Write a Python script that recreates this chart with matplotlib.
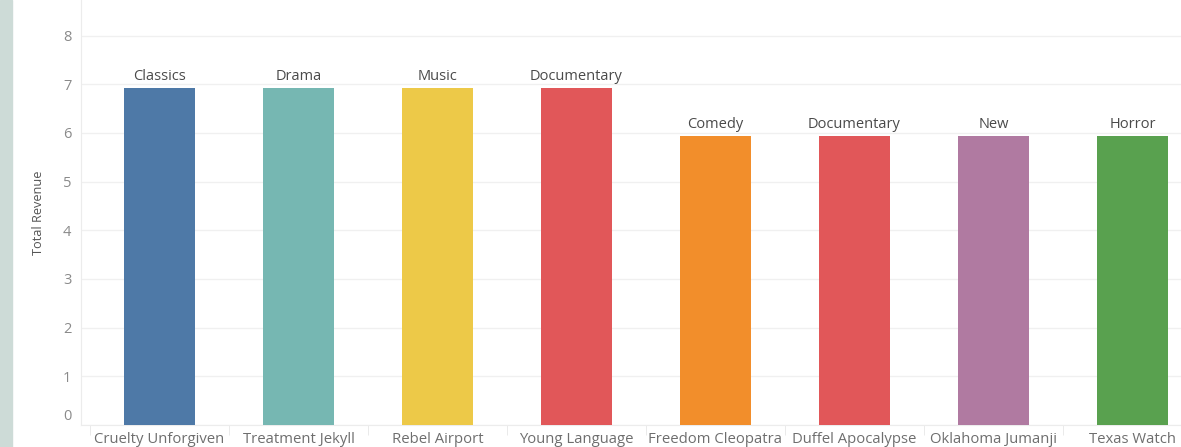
import matplotlib
matplotlib.use("Agg")
import matplotlib.pyplot as plt
from matplotlib.patches import Rectangle
from matplotlib.transforms import ScaledTranslation
import numpy as np

films = ["Cruelty Unforgiven", "Treatment Jekyll", "Rebel Airport", "Young Language",
         "Freedom Cleopatra", "Duffel Apocalypse", "Oklahoma Jumanji", "Texas Watch"]
categories = ["Classics", "Drama", "Music", "Documentary",
              "Comedy", "Documentary", "New", "Horror"]
revenue = [6.93, 6.93, 6.93, 6.93, 5.94, 5.94, 5.94, 5.94]

cat_colors = {
    "Classics": "#4e79a7",
    "Drama": "#76b7b2",
    "Music": "#edc948",
    "Documentary": "#e15759",
    "Comedy": "#f28e2b",
    "New": "#b07aa1",
    "Horror": "#59a14f",
}

plt.rcParams["font.family"] = ["Open Sans", "DejaVu Sans"]

W, H = 1181, 447
fig = plt.figure(figsize=(W / 100, H / 100), dpi=100)
fig.patches.append(Rectangle((0, 0), 12 / W, 1, transform=fig.transFigure,
                             color="#cddbd7", zorder=0))

left, right, bottom, top = 81, 1181, 425, 0
ax = fig.add_axes([left / W, (H - bottom) / H, (right - left) / W, (bottom - top) / H])

x = np.arange(len(films))
colors = [cat_colors[c] for c in categories]
ax.bar(x, revenue, width=0.51, color=colors, zorder=3)
for xi, v, c in zip(x, revenue, categories):
    ax.text(xi, v + 0.07, c, ha="center", va="bottom", fontsize=10.5, color="#4a4a4a")

# category width 139 px, first boundary at 90 px
ax.set_xlim(-0.5 - 9 / 139, -0.5 + (right - 90) / 139)
ax.set_ylim(0, 8.73)

ax.set_yticks(range(0, 9))
ax.yaxis.grid(True, color="#f0f0f0", linewidth=1, zorder=0)
ax.tick_params(axis="y", length=0, pad=7, labelsize=10.5, labelcolor="#8a8a8a")
zero_lbl = ax.yaxis.get_major_ticks()[0].label1
zero_lbl.set_transform(zero_lbl.get_transform()
                       + ScaledTranslation(0, 10 / 100, fig.dpi_scale_trans))
ax.set_ylabel("Total Revenue", fontsize=9.2, color="#555555", labelpad=13)

ax.set_xticks(x)
ax.set_xticklabels(films)
ax.set_xticks(np.arange(len(films)) - 0.5, minor=True)
ax.tick_params(axis="x", which="major", length=0, pad=5, labelsize=10.7, labelcolor="#6e6e6e")
ax.tick_params(axis="x", which="minor", length=7, color="#e6e6e6")

for side in ["top", "right"]:
    ax.spines[side].set_visible(False)
ax.spines["left"].set_color("#ececec")
ax.spines["bottom"].set_color("#ececec")

fig.savefig("out.png", dpi=100)
